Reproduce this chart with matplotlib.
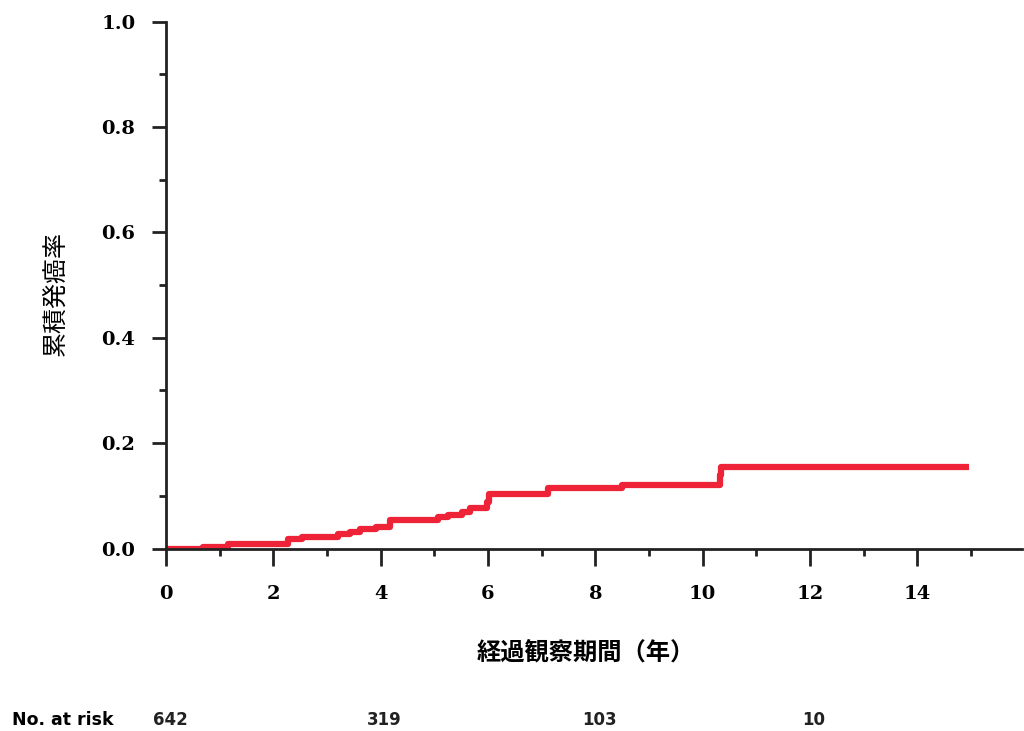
import numpy as np
import matplotlib.pyplot as plt
import matplotlib.transforms as mtransforms
from matplotlib.ticker import MultipleLocator

# cumulative incidence step curve
times = [0, 0.69, 1.15, 2.27, 2.53, 3.20, 3.43, 3.61, 3.92, 4.17, 5.07, 5.25,
         5.51, 5.66, 5.98, 6.02, 7.11, 8.49, 10.32, 10.35, 14.97]
cum_rate = [0.0, 0.003, 0.008, 0.018, 0.022, 0.027, 0.032, 0.037, 0.041, 0.054,
            0.059, 0.064, 0.070, 0.077, 0.089, 0.104, 0.114, 0.121, 0.140,
            0.154, 0.154]

risk_times = [0, 4, 8, 12]
at_risk = ["642", "319", "103", "10"]

x_ticks = np.arange(0, 15, 2)
y_ticks = [0.0, 0.2, 0.4, 0.6, 0.8, 1.0]

W, H = 1024, 731
fig = plt.figure(figsize=(W / 100, H / 100), dpi=100)
ax = fig.add_axes([166 / W, 1 - 548.5 / H, (1022 - 166) / W, (548.5 - 21.7) / H])

ax.step(times, cum_rate, where="post", color="#ee2338", lw=4.5,
        solid_capstyle="butt", zorder=2)

ax.set_xlim(0, 15.95)
ax.set_ylim(0, 1)
for s in ["top", "right"]:
    ax.spines[s].set_visible(False)
for s in ["left", "bottom"]:
    ax.spines[s].set_linewidth(2.0)
    ax.spines[s].set_color("#222222")
    ax.spines[s].set_zorder(3)

ax.set_xticks(x_ticks)
ax.set_xticklabels([str(v) for v in x_ticks])
ax.set_yticks(y_ticks)
ax.set_yticklabels([f"{v:.1f}" for v in y_ticks])
ax.xaxis.set_minor_locator(MultipleLocator(1))
ax.yaxis.set_minor_locator(MultipleLocator(0.1))

for lab in ax.get_xticklabels() + ax.get_yticklabels():
    lab.set_fontfamily("DejaVu Serif")
    lab.set_fontweight("bold")
    lab.set_fontsize(14)

ax.tick_params(axis="x", which="major", direction="out", length=12, width=2,
               pad=14, color="#222222")
ax.tick_params(axis="x", which="minor", direction="out", length=5, width=2,
               color="#222222")
ax.tick_params(axis="y", which="major", direction="out", length=10, width=2,
               pad=12, color="#222222")
ax.tick_params(axis="y", which="minor", direction="out", length=5, width=2,
               color="#222222")

# axis titles
fig.text(55 / W, 1 - 293 / H, "累積発癌率", rotation=90, ha="center",
         va="center", fontsize=18, family=["Noto Sans CJK JP", "DejaVu Sans"])
fig.text(586 / W, 1 - 653 / H, "経過観察期間（年）", ha="center", va="center",
         fontsize=17.5, fontweight="bold",
         family=["Noto Sans CJK JP", "DejaVu Sans"])

# number at risk row
row_y = 1 - 720 / H
fig.text(12 / W, row_y, "No. at risk", ha="left", va="center",
         fontsize=12.5, fontweight="bold", family="DejaVu Sans")
trans = mtransforms.blended_transform_factory(ax.transData, fig.transFigure)
trans = trans + mtransforms.ScaledTranslation(4 / 100, 0, fig.dpi_scale_trans)
for t, n in zip(risk_times, at_risk):
    ax.text(t, row_y, n, transform=trans, ha="center", va="center",
            fontsize=12, fontweight="bold", color="#222222", clip_on=False)

fig.savefig("out.png", dpi=100, facecolor="white")
